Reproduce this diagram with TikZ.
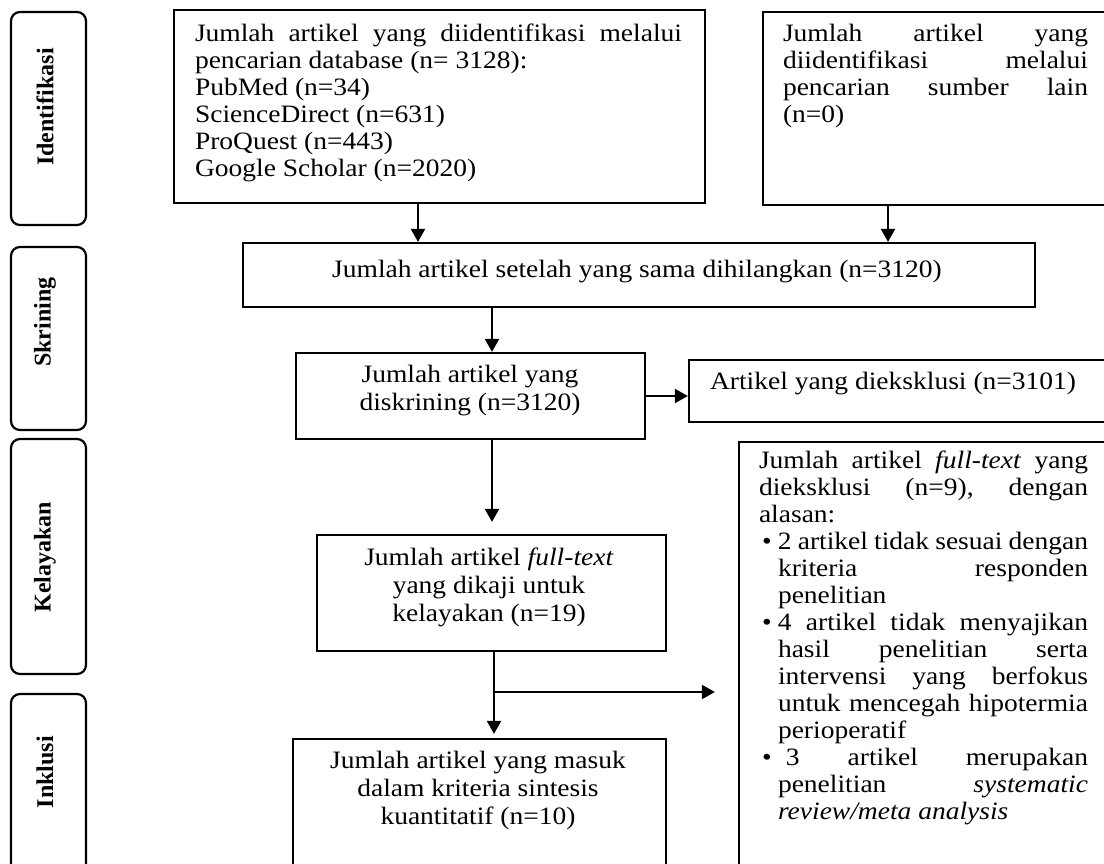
\documentclass[tikz,border=0pt]{standalone}
\usepackage{fontspec}
\setmainfont{Liberation Serif}[FakeStretch=1.1]
\newfontfamily\lblfont{Liberation Serif}
\usetikzlibrary{arrows.meta}
\newcommand{\fsj}{\fontsize{25}{27}\selectfont}
\newcommand{\fsc}{\fontsize{25}{28.3}\selectfont}
\newcommand{\bul}{\makebox[19pt][l]{\hspace{3pt}\textbullet}}
\begin{document}
\begin{tikzpicture}[x=1pt,y=-1pt,
  box/.style={draw, line width=2.2pt, inner sep=0pt},
  lbl/.style={draw, line width=2.2pt, rounded corners=9pt, inner sep=0pt, minimum width=75pt},
  txt/.style={inner sep=0pt, outer sep=0pt},
  lbltxt/.style={inner sep=0pt, rotate=90, font=\lblfont\bfseries\fontsize{24}{26}\selectfont},
  arr/.style={line width=2pt, -{Triangle[width=14pt,length=13pt]}}]
\useasboundingbox (0,0) rectangle (1104,863);
\fill[white] (0,0) rectangle (1104,863);
\begin{scope}
\clip (0,0) rectangle (1104,863);
% stage labels
\node[lbl, minimum height=213pt] (l1) at (48.5,118.5) {};
\node[lbl, minimum height=183pt] (l2) at (48.5,338.5) {};
\node[lbl, minimum height=235pt] (l3) at (48.5,556.5) {};
\node[lbl, minimum height=186pt] (l4) at (48.5,787) {};
\node[lbltxt] (lt1) at (45,107) {Identifikasi};
\node[lbltxt] (lt2) at (45,322) {Skrining};
\node[lbltxt] (lt3) at (45,557) {Kelayakan};
\node[lbltxt] (lt4) at (45,772) {Inklusi};
% boxes
\node[box, minimum width=531pt, minimum height=193pt] (b1) at (439.5,106.5) {};
\node[box, minimum width=357pt, minimum height=193pt] (b2) at (941.5,108.5) {};
\node[box, minimum width=792pt, minimum height=64pt] (b3) at (639,275) {};
\node[box, minimum width=349pt, minimum height=86pt] (b4) at (470.5,396) {};
\node[box, minimum width=431pt, minimum height=62pt] (b5) at (904.5,391) {};
\node[box, minimum width=349pt, minimum height=116pt] (b6) at (491.5,593) {};
\node[box, minimum width=373pt, minimum height=141pt] (b7) at (479.5,809.5) {};
\node[box, minimum width=381pt, minimum height=438pt] (b8) at (929.5,661) {};
% texts
\node[txt, anchor=base west] (t1) at (195,41) {\parbox[t]{487pt}{\fsj
Jumlah\hfill artikel\hfill yang\hfill diidentifikasi\hfill melalui\\
pencarian database (n= 3128):\\
PubMed (n=34)\\
ScienceDirect (n=631)\\
ProQuest (n=443)\\
Google Scholar (n=2020)}};
\node[txt, anchor=base west] (t2) at (783,41) {\parbox[t]{305pt}{\fsj
Jumlah\hfill artikel\hfill yang\\
diidentifikasi\hfill melalui\\
pencarian\hfill sumber\hfill lain\\
(n=0)}};
\node[txt, anchor=base] (t3) at (637,277) {\fsj Jumlah artikel setelah yang sama dihilangkan (n=3120)};
\node[txt, anchor=base] (t4) at (470,382) {\parbox[t]{330pt}{\centering\fsc
Jumlah artikel yang\\ diskrining (n=3120)}};
\node[txt, anchor=base west] (t5) at (710,389) {\fsj Artikel yang dieksklusi (n=3101)};
\node[txt, anchor=base] (t6) at (489,565) {\parbox[t]{330pt}{\centering\fsc
Jumlah artikel \textit{full-text}\\ yang dikaji untuk\\ kelayakan (n=19)}};
\node[txt, anchor=base] (t7) at (478,768) {\parbox[t]{360pt}{\centering\fsc
Jumlah artikel yang masuk\\ dalam kriteria sintesis\\ kuantitatif (n=10)}};
\node[txt, anchor=base west] (t8) at (759,468) {\parbox[t]{329pt}{\fsj
Jumlah\hfill artikel\hfill \textit{full-text}\hfill yang\\
dieksklusi\hfill (n=9),\hfill dengan\\
alasan:\\
\bul 2\hfill artikel\hfill tidak\hfill sesuai\hfill dengan\\
\hspace*{19pt}kriteria\hfill responden\\
\hspace*{19pt}penelitian\\
\bul 4\hfill artikel\hfill tidak\hfill menyajikan\\
\hspace*{19pt}hasil\hfill penelitian\hfill serta\\
\hspace*{19pt}intervensi\hfill yang\hfill berfokus\\
\hspace*{19pt}untuk\hfill mencegah\hfill hipotermia\\
\hspace*{19pt}perioperatif\\
\bul\hspace{8pt}3\hfill artikel\hfill merupakan\\
\hspace*{19pt}penelitian\hfill \textit{systematic}\\
\hspace*{19pt}\textit{review/meta analysis}}};
% connectors
\coordinate (a1) at (418,0);
\coordinate (a2) at (888,0);
\coordinate (a3) at (492,0);
\coordinate (a4) at (494,0);
\coordinate (br) at (494,692);
\draw[arr] (b1.south -| a1) -- (b3.north -| a1);
\draw[arr] (b2.south -| a2) -- (b3.north -| a2);
\draw[arr] (b3.south -| a3) -- (b4.north -| a3);
\draw[arr] (b4.east) -- (b4.east -| b5.west);
\draw[arr, shorten >=12pt] (b4.south -| a3) -- (b6.north -| a3);
\draw[arr, shorten >=4pt] (b6.south -| a4) -- (b7.north -| a4);
\draw[arr, shorten >=23pt] (br) -- (br -| b8.west);
\end{scope}
\end{tikzpicture}
\end{document}
